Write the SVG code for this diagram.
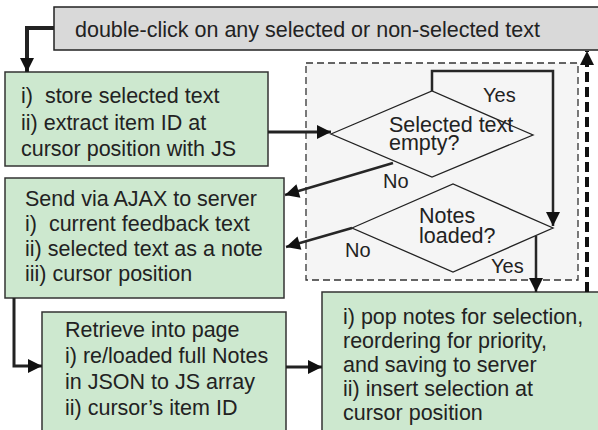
<svg xmlns="http://www.w3.org/2000/svg" width="598" height="430" viewBox="0 0 598 430">
<style>
  text { font-family: "Liberation Sans", Arial, sans-serif; font-size: 21.5px; fill: #222; white-space: pre; }
  .lbl { font-size: 20px; }
  .box { fill: #cde8cf; stroke: #333; stroke-width: 1.5; }
  .top { fill: #d9d9d9; stroke: #222; stroke-width: 1.5; }
  .dia { fill: #f5f5f5; stroke: #222; stroke-width: 1.3; }
  .cont { fill: #f5f5f5; stroke: #333; stroke-width: 1.3; stroke-dasharray: 7 4; }
  .con { fill: none; stroke: #222; stroke-width: 3; }
  .thin { fill: none; stroke: #262626; stroke-width: 2.5; }
  .dash { fill: none; stroke: #111; stroke-width: 4; stroke-dasharray: 10 5; }
</style>
<defs>
  <marker id="ah" markerUnits="userSpaceOnUse" markerWidth="16" markerHeight="16" viewBox="0 0 16 16" refX="15" refY="8" orient="auto">
    <path d="M1,1 L15,8 L1,15 Z" fill="#111"/>
  </marker>
</defs>

<g id="container">
  <rect class="cont" x="306" y="63" width="272" height="217"/>
</g>

<g id="n-top">
  <rect class="top" x="54" y="7" width="560" height="43"/>
  <text x="75" y="37">double-click on any selected or non-selected text</text>
</g>

<g id="n-store">
  <rect class="box" x="5" y="72" width="263" height="94"/>
  <text x="21" y="103" xml:space="preserve">i)  store selected text</text>
  <text x="21" y="129.5">ii) extract item ID at</text>
  <text x="21" y="156">cursor position with JS</text>
</g>

<g id="n-send">
  <rect class="box" x="5" y="178" width="279" height="120"/>
  <text x="25" y="206">Send via AJAX to server</text>
  <text x="25" y="231" xml:space="preserve">i)  current feedback text</text>
  <text x="25" y="256">ii) selected text as a note</text>
  <text x="25" y="281">iii) cursor position</text>
</g>

<g id="n-retrieve">
  <rect class="box" x="42" y="312" width="244" height="130"/>
  <text x="65" y="337">Retrieve into page</text>
  <text x="65" y="363">i) re/loaded full Notes</text>
  <text x="65" y="389">in JSON to JS array</text>
  <text x="65" y="415">ii) cursor’s item ID</text>
</g>

<g id="n-pop">
  <rect class="box" x="322" y="292" width="300" height="150"/>
  <text x="343" y="324">i) pop notes for selection,</text>
  <text x="343" y="348">reordering for priority,</text>
  <text x="343" y="372">and saving to server</text>
  <text x="343" y="396">ii) insert selection at</text>
  <text x="343" y="420">cursor position</text>
</g>

<g id="n-empty">
  <polygon class="dia" points="331,134 432,91 533,135 432,177"/>
  <text x="389" y="131.5">Selected text</text>
  <text x="389" y="150">empty?</text>
</g>

<g id="n-loaded">
  <polygon class="dia" points="352,228 453,184 553,228 453,272"/>
  <text x="419" y="222.5">Notes</text>
  <text x="419" y="243.3">loaded?</text>
</g>

<g id="connectors">
  <polyline class="con" points="54,28 27,28 27,72" marker-end="url(#ah)" style="stroke-width:4"/>
  <line class="con" x1="268" y1="132" x2="331" y2="132" marker-end="url(#ah)"/>
  <polyline class="thin" points="432,91 432,71 553,71 553,226" marker-end="url(#ah)"/>
  <line class="thin" x1="393" y1="163" x2="285" y2="195" marker-end="url(#ah)"/>
  <line class="thin" x1="352" y1="228" x2="286" y2="247" marker-end="url(#ah)"/>
  <line class="thin" x1="536" y1="236" x2="536" y2="292" marker-end="url(#ah)"/>
  <polyline class="con" points="14,298 14,366 42,366" marker-end="url(#ah)"/>
  <line class="con" x1="286" y1="367" x2="322" y2="367" marker-end="url(#ah)"/>
  <line class="dash" x1="587" y1="292" x2="587" y2="51" marker-end="url(#ah)"/>
  <text class="lbl" x="483" y="101.7">Yes</text>
  <text class="lbl" x="383" y="188">No</text>
  <text class="lbl" x="345" y="257">No</text>
  <text class="lbl" x="491" y="273.3">Yes</text>
</g>
</svg>
